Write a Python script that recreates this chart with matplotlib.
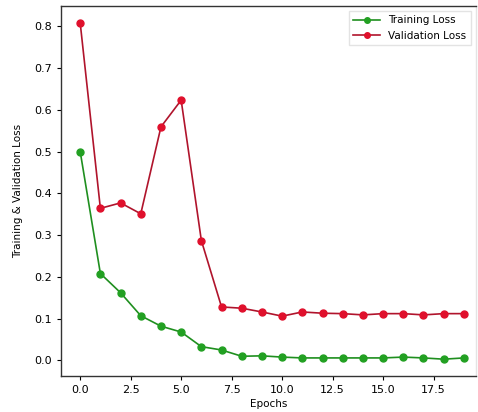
import matplotlib
matplotlib.use("Agg")
import matplotlib.pyplot as plt

epochs = list(range(20))
train_loss = [0.500, 0.208, 0.162, 0.107, 0.082, 0.068, 0.033, 0.025, 0.010, 0.011,
              0.008, 0.006, 0.006, 0.006, 0.006, 0.006, 0.008, 0.006, 0.003, 0.006]
val_loss = [0.808, 0.364, 0.377, 0.351, 0.559, 0.623, 0.287, 0.128, 0.125, 0.116,
            0.106, 0.116, 0.113, 0.112, 0.109, 0.112, 0.112, 0.109, 0.112, 0.112]

fig = plt.figure(figsize=(4.78, 4.12), dpi=100)
ax = fig.add_axes([61/478, 1-376/412, (476-61)/478, (376-6)/412])

ax.plot(epochs, train_loss, color='#1f8f1f', marker='o', markersize=5,
        markerfacecolor='#22a022', markeredgecolor='#22a022', linewidth=1.2, label='Training Loss')
ax.plot(epochs, val_loss, color='#b0142c', marker='o', markersize=5,
        markerfacecolor='#e0102c', markeredgecolor='#e0102c', linewidth=1.2, label='Validation Loss')

ax.set_xlim(-0.95, 19.6)
ax.set_xlabel('Epochs', fontsize=7.5, labelpad=3)
ax.set_ylabel('Training & Validation Loss', fontsize=7.5, labelpad=8)
ax.tick_params(labelsize=8, length=3, width=0.8)
for s in ax.spines.values():
    s.set_linewidth(1.0)
    s.set_color('#333333')
ax.spines['right'].set_color('#e4e4e4')

ax.legend(loc='upper right', fontsize=7.5, frameon=True, fancybox=False,
          edgecolor='#dddddd', borderaxespad=0.5, handlelength=2.6, markerscale=0.8)

fig.savefig('out.png', dpi=100)
